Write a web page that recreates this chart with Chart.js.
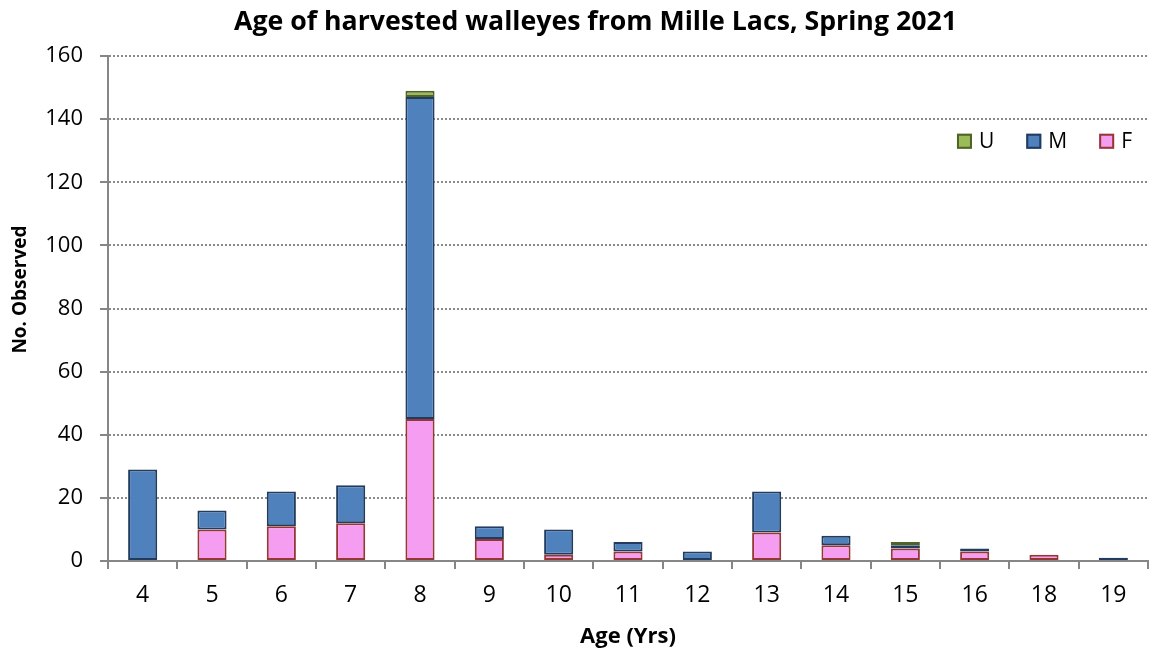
<!DOCTYPE html>
<html>
<head>
<meta charset="utf-8">
<script src="https://cdn.jsdelivr.net/npm/chart.js@4/dist/chart.umd.min.js"></script>
<style>
  html, body { margin: 0; padding: 0; background: #fff; }
  #wrap { width: 1163px; height: 650px; }
</style>
</head>
<body>
<div id="wrap"><canvas id="ageChart" width="1163" height="650"></canvas></div>
<script>
// ages (x categories) and counts per sex
const ages = ['4', '5', '6', '7', '8', '9', '10', '11', '12', '13', '14', '15', '16', '18', '19'];
const female = [null, 10, 11, 12, 45, 7, 2, 3, null, 9, 5, 4, 3, 2, null];
const male = [29, 6, 11, 12, 102, 4, 8, 3, 3, 13, 3, 1, 1, null, 1];
const unknown = [null, null, null, null, 2, null, null, null, null, null, null, 1, null, null, null];
const yTicks = [0, 20, 40, 60, 80, 100, 120, 140, 160];
const yTitle = 'No. Observed';

const FONT = 'Open Sans';

// legend sits inside the plot, top right (U, M, F);
// the y title is drawn here too, a little above the plot's middle like the original
const extras = {
  id: 'extras',
  afterDraw(chart) {
    const ctx = chart.ctx;
    const area = chart.chartArea;
    const items = chart.data.datasets.slice().reverse();
    const box = 15, gap = 7, space = 32;
    ctx.save();
    ctx.font = '21px "' + FONT + '"';
    ctx.textBaseline = 'middle';
    let total = 0;
    items.forEach((ds, i) => {
      total += box + gap + ctx.measureText(ds.label).width + (i < items.length - 1 ? space : 0);
    });
    let x = area.right - 16 - total;
    const y = chart.scales.y.getPixelForValue(133);
    items.forEach(ds => {
      ctx.fillStyle = ds.backgroundColor;
      ctx.fillRect(x, y - box / 2, box, box);
      ctx.lineWidth = 2;
      ctx.strokeStyle = ds.borderColor;
      ctx.strokeRect(x + 1, y - box / 2 + 1, box - 2, box - 2);
      ctx.fillStyle = '#000';
      ctx.fillText(ds.label, x + box + gap, y + 1);
      x += box + gap + ctx.measureText(ds.label).width + space;
    });

    // y axis title
    ctx.translate(21, chart.scales.y.getPixelForValue(86));
    ctx.rotate(-Math.PI / 2);
    ctx.font = 'bold 19px "' + FONT + '"';
    ctx.textAlign = 'center';
    ctx.fillStyle = '#000';
    ctx.fillText(yTitle, 0, 0);
    ctx.restore();
  }
};

new Chart(document.getElementById('ageChart').getContext('2d'), {
  type: 'bar',
  data: {
    labels: ages,
    datasets: [
      { label: 'F', data: female, backgroundColor: '#F59DF0', borderColor: '#953735', borderWidth: 2, borderSkipped: false },
      { label: 'M', data: male, backgroundColor: '#4F81BD', borderColor: '#213C5E', borderWidth: 2, borderSkipped: false },
      { label: 'U', data: unknown, backgroundColor: '#9BBB59', borderColor: '#4F6228', borderWidth: 2, borderSkipped: false }
    ]
  },
  options: {
    responsive: false,
    devicePixelRatio: 1,
    animation: false,
    barPercentage: 0.42,
    categoryPercentage: 1,
    layout: { padding: { left: 43, right: 15, top: 0, bottom: 0 } },
    plugins: {
      title: {
        display: true,
        text: 'Age of harvested walleyes from Mille Lacs, Spring 2021',
        color: '#000',
        font: { family: FONT, size: 26.7, weight: 'bold' },
        padding: { top: 6, bottom: 18 }
      },
      legend: { display: false },
      tooltip: { enabled: false }
    },
    scales: {
      x: {
        stacked: true,
        afterFit(scale) { scale.height = 89; },
        grid: { drawOnChartArea: false, drawTicks: true, tickLength: 8, color: '#868686', lineWidth: 2 },
        border: { color: '#868686', width: 2 },
        ticks: { color: '#000', font: { family: FONT, size: 23 }, padding: 13 },
        title: { display: true, text: 'Age (Yrs)', color: '#000', font: { family: FONT, size: 22, weight: 'bold' }, padding: { top: 0, bottom: 0 } }
      },
      y: {
        stacked: true,
        min: 0,
        max: 160,
        afterBuildTicks(scale) { scale.ticks = yTicks.map(v => ({ value: v })); },
        afterFit(scale) { scale.width = 65; },
        grid: { color: '#8a8a8a', lineWidth: 2, tickLength: 8, tickColor: '#868686' },
        border: { color: '#868686', width: 2, dash: [2, 2] },
        ticks: { color: '#000', font: { family: FONT, size: 22 }, padding: 17 },
        title: { display: false }
      }
    }
  },
  plugins: [extras]
});
</script>
</body>
</html>
